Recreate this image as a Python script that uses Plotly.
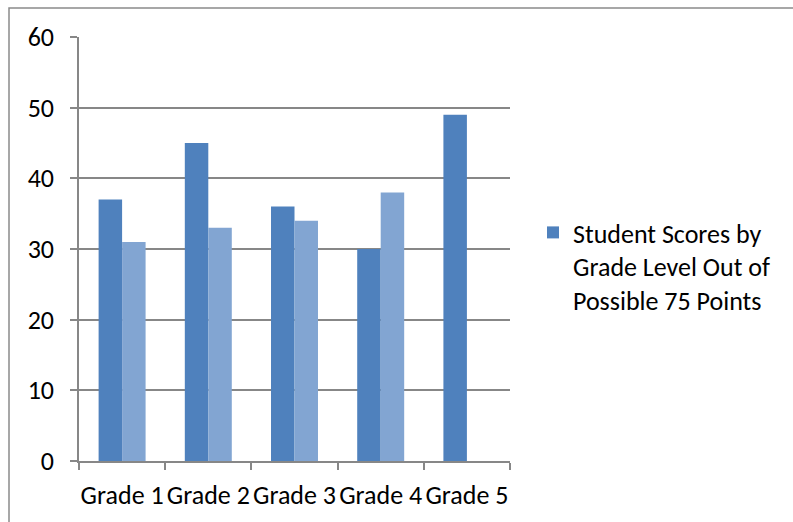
import plotly.graph_objects as go

categories = ["Grade 1", "Grade 2", "Grade 3", "Grade 4", "Grade 5"]
series_main = [37, 45, 36, 30, 49]
series_second = [31, 33, 34, 38, None]
legend_label = "Student Scores by<br>Grade Level Out of<br>Possible 75 Points"
y_ticks = [0, 10, 20, 30, 40, 50, 60]

W, H = 793, 522
L, R, T, B = 79, 283, 37, 61
pw, ph = W - L - R, H - T - B

def px_x(p):
    return (p - L) / pw

def px_y(p):
    return (H - B - p) / ph

FONT = "Calibri, Carlito, 'Liberation Sans', Arial, sans-serif"
FS = 26
GRID = "#878787"

fig = go.Figure()
fig.add_trace(go.Bar(x=categories, y=series_main, name=legend_label,
                     marker=dict(color="#4F81BD", line=dict(width=0))))
fig.add_trace(go.Bar(x=categories, y=series_second, name="series2", showlegend=False,
                     marker=dict(color="#82A5D2", line=dict(width=0))))

fig.update_layout(
    width=W, height=H,
    margin=dict(l=L, r=R, t=T, b=B, pad=0, autoexpand=False),
    paper_bgcolor="white", plot_bgcolor="white",
    barmode="group", bargap=0.455, bargroupgap=0,
    font=dict(family=FONT, size=FS, color="black"),
    showlegend=True,
    legend=dict(x=px_x(533), y=px_y(209), xanchor="left", yanchor="top",
                valign="top", font=dict(family=FONT, size=FS, color="black"),
                bgcolor="rgba(0,0,0,0)", borderwidth=0, itemclick=False),
    xaxis=dict(showline=True, linecolor=GRID, linewidth=1.5, automargin=False, tickangle=0,
               ticks="outside", tickson="boundaries", ticklen=7, tickcolor=GRID, tickwidth=1.5,
               showgrid=False, ticklabelstandoff=10,
               tickfont=dict(family=FONT, size=FS, color="black")),
    yaxis=dict(range=[0, 60], tickvals=y_ticks, showline=True, linecolor=GRID, linewidth=1.5,
               automargin=False,
               ticks="outside", ticklen=7, tickcolor=GRID, tickwidth=1.5,
               showgrid=True, gridcolor=GRID, gridwidth=1.5, zeroline=False,
               ticklabelstandoff=11,
               tickfont=dict(family=FONT, size=FS, color="black")),
    shapes=[dict(type="rect", xref="paper", yref="paper",
                 x0=px_x(9), x1=px_x(810), y0=px_y(540), y1=px_y(8),
                 line=dict(color="#8a8a8a", width=1.5), fillcolor="rgba(0,0,0,0)", layer="above")],
)

fig.write_html("out.html")
